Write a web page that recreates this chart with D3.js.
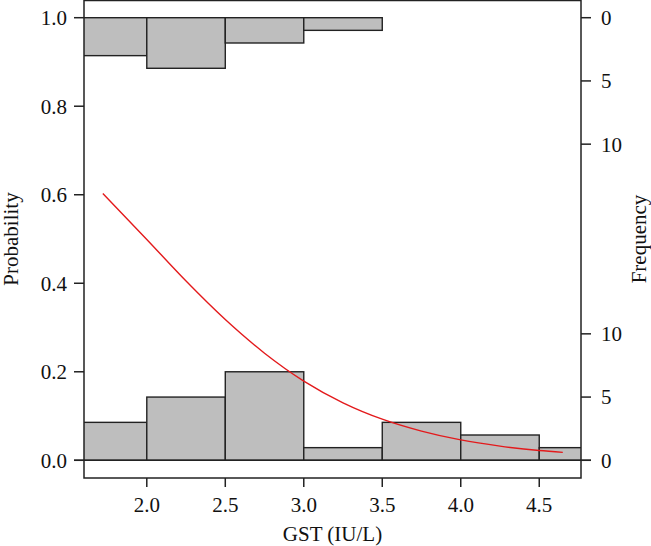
<!DOCTYPE html>
<html><head><meta charset="utf-8">
<script src="https://cdn.jsdelivr.net/npm/d3@7"></script>
<style>body{margin:0;background:#fff}svg{display:block}text{font-family:"Liberation Serif","Times New Roman",serif;fill:#111}</style>
</head><body>
<script>
// Histogram bins (GST, IU/L)
const binEdges = [1.5, 2.0, 2.5, 3.0, 3.5, 4.0, 4.5, 5.0];
const countsOutcome0 = [3, 5, 7, 1, 3, 2, 1];   // bottom histogram
const countsOutcome1 = [3, 4, 2, 1, 0, 0, 0];   // top (hanging) histogram
// Fitted probability curve
const curveX = [1.72, 2.0, 2.25, 2.5, 2.75, 3.0, 3.25, 3.5, 3.75, 4.0, 4.25, 4.5, 4.65];
const curveP = [0.603, 0.499, 0.405, 0.318, 0.242, 0.179, 0.130, 0.093, 0.066, 0.046, 0.032, 0.022, 0.018];
const xTicks = [2.0, 2.5, 3.0, 3.5, 4.0, 4.5];
const yTicks = [0.0, 0.2, 0.4, 0.6, 0.8, 1.0];
const freqTicks = [0, 5, 10];
const countPerProb = 35;

const W = 651, H = 546;
const L = 84, R = 581, T = 0, B = 478;
const svg = d3.select("body").append("svg").attr("width", W).attr("height", H);

const x = d3.scaleLinear().domain([1.6, 4.766]).range([L, R]);
const y = d3.scaleLinear().domain([-0.04, 1.04]).range([B, T]);

svg.append("defs").append("clipPath").attr("id", "clip")
  .append("rect").attr("x", L).attr("y", T).attr("width", R - L).attr("height", B - T);
const g = svg.append("g").attr("clip-path", "url(#clip)");

const bins = countsOutcome0.map((c, i) => ({x0: binEdges[i], x1: binEdges[i + 1], c0: c, c1: countsOutcome1[i]}));

// bottom bars
g.selectAll("rect.b0").data(bins.filter(d => d.c0 > 0)).join("rect")
  .attr("x", d => x(d.x0)).attr("width", d => x(d.x1) - x(d.x0))
  .attr("y", d => y(d.c0 / countPerProb)).attr("height", d => y(0) - y(d.c0 / countPerProb))
  .attr("fill", "#bebebe").attr("stroke", "#222").attr("stroke-width", 1.4);
// top bars
g.selectAll("rect.b1").data(bins.filter(d => d.c1 > 0)).join("rect")
  .attr("x", d => x(d.x0)).attr("width", d => x(d.x1) - x(d.x0))
  .attr("y", y(1)).attr("height", d => y(1 - d.c1 / countPerProb) - y(1))
  .attr("fill", "#bebebe").attr("stroke", "#222").attr("stroke-width", 1.4);

// zero line
svg.append("line").attr("x1", L - 10).attr("x2", R + 10).attr("y1", y(0)).attr("y2", y(0))
  .attr("stroke", "#222").attr("stroke-width", 1.5);

// curve
const pts = curveX.map((v, i) => [v, curveP[i]]);
g.append("path").datum(pts)
  .attr("d", d3.line().x(d => x(d[0])).y(d => y(d[1])).curve(d3.curveMonotoneX))
  .attr("fill", "none").attr("stroke", "#e31a1c").attr("stroke-width", 1.4);

// box
svg.append("rect").attr("x", L).attr("y", T + 0.5).attr("width", R - L).attr("height", B - T - 0.5)
  .attr("fill", "none").attr("stroke", "#222").attr("stroke-width", 1.5);

const fs = 21;
// bottom axis
const xa = svg.append("g");
xTicks.forEach(t => {
  xa.append("line").attr("x1", x(t)).attr("x2", x(t)).attr("y1", B).attr("y2", B + 9).attr("stroke", "#222").attr("stroke-width", 1.5);
  xa.append("text").attr("x", x(t)).attr("y", 512).attr("text-anchor", "middle").attr("font-size", fs).text(d3.format(".1f")(t));
});
// left axis
yTicks.forEach(t => {
  svg.append("line").attr("x1", L - 10).attr("x2", L).attr("y1", y(t)).attr("y2", y(t)).attr("stroke", "#222").attr("stroke-width", 1.5);
  svg.append("text").attr("x", 67).attr("y", y(t)).attr("dy", "0.35em").attr("text-anchor", "end").attr("font-size", fs).text(d3.format(".1f")(t));
});
// right axis: bottom frequencies and top frequencies
freqTicks.forEach(c => {
  [y(c / countPerProb), y(1 - c / countPerProb)].forEach(yy => {
    svg.append("line").attr("x1", R).attr("x2", R + 10).attr("y1", yy).attr("y2", yy).attr("stroke", "#222").attr("stroke-width", 1.5);
    svg.append("text").attr("x", 601).attr("y", yy).attr("dy", "0.35em").attr("font-size", fs).text(c);
  });
});

// titles
svg.append("text").attr("x", (L + R) / 2).attr("y", 541).attr("text-anchor", "middle").attr("font-size", fs).text("GST (IU/L)");
svg.append("text").attr("transform", `translate(18,${(T + B) / 2}) rotate(-90)`).attr("text-anchor", "middle").attr("font-size", fs).text("Probability");
svg.append("text").attr("transform", `translate(646,${(T + B) / 2}) rotate(-90)`).attr("text-anchor", "middle").attr("font-size", fs).text("Frequency");
</script>
</body></html>
